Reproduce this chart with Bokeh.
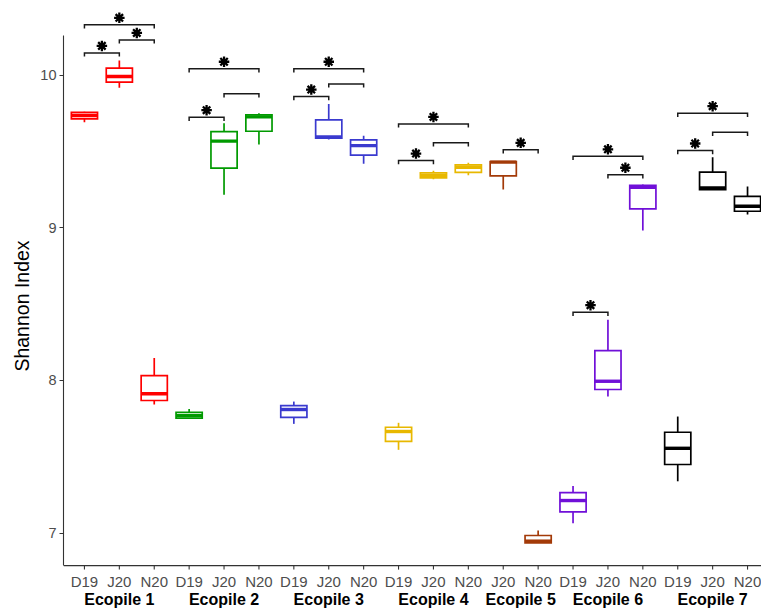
from bokeh.plotting import figure
from bokeh.models import Range1d, FixedTicker
from bokeh.core.properties import value
from bokeh.embed import file_html
from bokeh.resources import INLINE

# ---------------- data ----------------
group_names = ["Ecopile 1", "Ecopile 2", "Ecopile 3", "Ecopile 4", "Ecopile 5", "Ecopile 6", "Ecopile 7"]
group_colors = ["#FF0000", "#009A00", "#3A3ACF", "#E8B800", "#A33A08", "#7010D8", "#000000"]

box_group = ["Ecopile 1", "Ecopile 1", "Ecopile 1",
             "Ecopile 2", "Ecopile 2", "Ecopile 2",
             "Ecopile 3", "Ecopile 3", "Ecopile 3",
             "Ecopile 4", "Ecopile 4", "Ecopile 4",
             "Ecopile 5", "Ecopile 5",
             "Ecopile 6", "Ecopile 6", "Ecopile 6",
             "Ecopile 7", "Ecopile 7", "Ecopile 7"]
box_time = ["D19", "J20", "N20",
            "D19", "J20", "N20",
            "D19", "J20", "N20",
            "D19", "J20", "N20",
            "J20", "N20",
            "D19", "J20", "N20",
            "D19", "J20", "N20"]
lower = [9.691, 9.916, 7.843,
         7.750, 9.216, 9.545,
         7.716, 9.578, 9.419,
         7.546, 9.318, 9.344,
         9.250, 6.937,
         7.065, 7.895, 8.982,
         7.340, 9.247, 9.087]
q1 = [9.713, 9.953, 7.869,
      7.753, 9.390, 9.632,
      7.759, 9.586, 9.475,
      7.602, 9.327, 9.362,
      9.340, 6.937,
      7.140, 7.941, 9.124,
      7.450, 9.250, 9.108]
median = [9.735, 9.990, 7.913,
          7.771, 9.567, 9.726,
          7.810, 9.594, 9.538,
          7.666, 9.342, 9.396,
          9.430, 6.948,
          7.214, 7.995, 9.265,
          7.556, 9.261, 9.141]
q3 = [9.756, 10.045, 8.032,
      7.792, 9.630, 9.739,
      7.836, 9.707, 9.576,
      7.694, 9.360, 9.412,
      9.434, 6.985,
      7.266, 8.196, 9.277,
      7.661, 9.364, 9.206]
upper = [9.760, 10.095, 8.148,
         7.814, 9.684, 9.750,
         7.862, 9.811, 9.602,
         7.723, 9.373, 9.425,
         9.434, 7.018,
         7.310, 8.397, 9.283,
         7.764, 9.462, 9.270]

y_ticks = [7, 8, 9, 10]

# significance brackets
cmp_group = ["Ecopile 1", "Ecopile 1", "Ecopile 1",
             "Ecopile 2", "Ecopile 2", "Ecopile 2",
             "Ecopile 3", "Ecopile 3", "Ecopile 3",
             "Ecopile 4", "Ecopile 4", "Ecopile 4",
             "Ecopile 5",
             "Ecopile 6", "Ecopile 6", "Ecopile 6",
             "Ecopile 7", "Ecopile 7", "Ecopile 7"]
cmp_from = ["D19", "J20", "D19",
            "D19", "J20", "D19",
            "D19", "J20", "D19",
            "D19", "J20", "D19",
            "J20",
            "D19", "J20", "D19",
            "D19", "J20", "D19"]
cmp_to = ["J20", "N20", "N20",
          "J20", "N20", "N20",
          "J20", "N20", "N20",
          "J20", "N20", "N20",
          "N20",
          "J20", "N20", "N20",
          "J20", "N20", "N20"]
cmp_y = [10.145, 10.230, 10.329,
         9.724, 9.877, 10.041,
         9.859, 9.942, 10.041,
         9.440, 9.556, 9.680,
         9.510,
         8.447, 9.347, 9.468,
         9.506, 9.625, 9.750]
cmp_label = ["*", "*", "*",
             "*", "", "*",
             "*", "", "*",
             "*", "", "*",
             "*",
             "*", "*", "*",
             "*", "", "*"]

# ---------------- layout ----------------
W, H = 761, 611
LEFT = 63
PX_PER_CAT = 34.9
PX_PER_UNIT = 152.73
AXIS_Y = 6.788          # value where the x axis line sits
AXIS_TOP = 10.259       # top end of the y axis line
Y_HI = 10.488
Y_LO = Y_HI - H / PX_PER_UNIT

xs = list(range(len(box_time)))
pos = {(g, t): i for i, (g, t) in enumerate(zip(box_group, box_time))}
col_of = dict(zip(group_names, group_colors))
cols = [col_of[g] for g in box_group]

x_start = -0.6
x_end = x_start + (W - LEFT) / PX_PER_CAT

p = figure(width=W, height=H, output_backend="svg", toolbar_location=None,
           x_range=Range1d(x_start, x_end), y_range=Range1d(Y_LO, Y_HI),
           x_axis_location=None,
           min_border_left=LEFT, min_border_right=0, min_border_top=0, min_border_bottom=0)
p.outline_line_color = None
p.background_fill_color = "white"
p.border_fill_color = "white"
p.xgrid.visible = False
p.ygrid.visible = False

FONT = "Liberation Sans"
AX_COL = "#333333"
TXT_COL = "#4D4D4D"

# y axis
ya = p.yaxis[0]
ya.ticker = FixedTicker(ticks=y_ticks)
ya.bounds = (AXIS_Y, AXIS_TOP)
ya.axis_line_color = AX_COL
ya.axis_line_width = 1.1
ya.major_tick_line_color = AX_COL
ya.major_tick_in = 0
ya.major_tick_out = 4
ya.minor_tick_line_color = None
ya.major_label_standoff = 3
ya.major_label_text_font = FONT
ya.major_label_text_font_size = "14.5px"
ya.major_label_text_color = TXT_COL
ya.axis_label = "Shannon Index"
ya.axis_label_text_font = FONT
ya.axis_label_text_font_size = "19.5px"
ya.axis_label_text_font_style = "normal"
ya.axis_label_text_color = "#000000"
ya.axis_label_standoff = 4

# x axis drawn inside the frame (line, ticks, two rows of labels)
tick_len = 4 / PX_PER_UNIT
p.segment(x0=[x_start], y0=[AXIS_Y], x1=[x_end], y1=[AXIS_Y], line_color=AX_COL, line_width=1.1)
p.segment(x0=xs, y0=[AXIS_Y] * len(xs), x1=xs, y1=[AXIS_Y - tick_len] * len(xs),
          line_color=AX_COL, line_width=1.1)
p.text(x=xs, y=[AXIS_Y] * len(xs), text=box_time, y_offset=16,
       text_align="center", text_baseline="middle",
       text_font=value(FONT), text_font_size="15px", text_color=TXT_COL)

centers = []
for g in group_names:
    idx = [i for i, bg in enumerate(box_group) if bg == g]
    centers.append(sum(idx) / len(idx))
p.text(x=centers, y=[AXIS_Y] * len(centers), text=group_names, y_offset=34,
       text_align="center", text_baseline="middle",
       text_font=value(FONT), text_font_size="16px", text_font_style="bold",
       text_color="#000000")

# boxes
BW = 0.75
LW = 1.7
p.segment(x0=xs, y0=q3, x1=xs, y1=upper, line_color=cols, line_width=LW)
p.segment(x0=xs, y0=q1, x1=xs, y1=lower, line_color=cols, line_width=LW)
p.vbar(x=xs, width=BW, bottom=q1, top=q3, fill_color="white", line_color=cols,
       line_width=LW, line_join="miter")
p.segment(x0=[x - BW / 2 for x in xs], y0=median, x1=[x + BW / 2 for x in xs], y1=median,
          line_color=cols, line_width=3.4, line_cap="butt")

# brackets
tip = 3.7 / PX_PER_UNIT
star_off = 7.0 / PX_PER_UNIT
bx, by, sx, sy = [], [], [], []
for g, a, b, y, lab in zip(cmp_group, cmp_from, cmp_to, cmp_y, cmp_label):
    x0, x1 = pos[(g, a)], pos[(g, b)]
    bx.append([x0, x0, x1, x1])
    by.append([y - tip, y, y, y - tip])
    if lab:
        sx.append((x0 + x1) / 2)
        sy.append(y + star_off)
p.multi_line(xs=bx, ys=by, line_color="#1A1A1A", line_width=1.5, line_join="miter")
p.scatter(x=sx, y=sy, marker="asterisk", size=10.5, line_color="#000000", line_width=2.3)

open("out.html", "w").write(file_html(p, INLINE))
